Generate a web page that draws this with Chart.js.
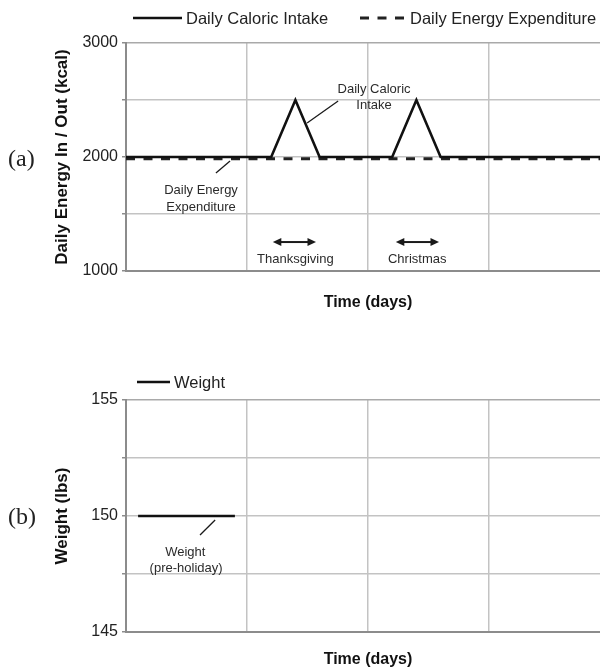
<!DOCTYPE html>
<html>
<head>
<meta charset="utf-8">
<script src="https://cdn.jsdelivr.net/npm/chart.js@4/dist/chart.umd.min.js"></script>
<style>
  html, body { margin: 0; padding: 0; background: #ffffff; overflow: hidden; width: 600px; height: 668px; }
  canvas { position: absolute; left: 0; }
  #top { top: 0; }
  #bottom { top: 336px; }
</style>
</head>
<body>
<canvas id="top" width="610" height="336"></canvas>
<canvas id="bottom" width="610" height="340"></canvas>
<script>
// ---------------- DATA ----------------
const dayGrid = [0, 30, 60, 90, 120];

const intakeDays = [0, 36, 42, 48, 66, 72, 78, 120];
const intakeKcal = [2000, 2000, 2500, 2000, 2000, 2500, 2000, 2000];

const expenditureDays = [0, 120];
const expenditureKcal = [1985, 1985];

const weightDays = [3, 27];
const weightLbs = [150, 150];

const energyTicks = [1000, 1500, 2000, 2500, 3000];
const energyTickLabels = ['1000', '', '2000', '', '3000'];

const weightTicks = [145, 147.5, 150, 152.5, 155];
const weightTickLabels = ['145', '', '150', '', '155'];

const seriesLabels = ['Daily Caloric Intake', 'Daily Energy Expenditure', 'Weight'];
// --------------------------------------

const SANS = "'Liberation Sans', Arial, Helvetica, sans-serif";
const SERIF = "'Liberation Serif', 'Times New Roman', serif";
const AXIS = '#8c8c8c';
const GRID = '#c3c3c3';
const GRID_TOP = '#a9a9a9';

function pts(xs, ys) { return xs.map((x, i) => ({ x: x, y: ys[i] })); }

function xScale(height, titlePadBottom) {
  return {
    type: 'linear', min: dayGrid[0], max: dayGrid[dayGrid.length - 1],
    afterBuildTicks: s => { s.ticks = dayGrid.map(v => ({ value: v })); },
    afterFit: s => { s.height = height; s.paddingLeft = 0; s.paddingRight = 0; },
    ticks: { display: false },
    grid: { color: c => (c.tick && c.tick.value === 0) ? 'rgba(0,0,0,0)' : GRID, lineWidth: 1.5, drawTicks: false },
    border: { display: true, color: AXIS, width: 2 },
    title: { display: true, text: 'Time (days)', color: '#111', font: { family: SANS, size: 16, weight: 'bold' }, padding: { top: 0, bottom: titlePadBottom } }
  };
}

function yScale(ticks, labels, title) {
  const mx = ticks[ticks.length - 1];
  return {
    type: 'linear', min: ticks[0], max: mx,
    afterBuildTicks: s => { s.ticks = ticks.map(v => ({ value: v })); },
    afterFit: s => { s.width = 126; },
    ticks: { autoSkip: false, color: '#222', padding: 4, font: { family: SANS, size: 16 },
             callback: (v, i) => labels[i] },
    grid: { color: c => (c.tick && c.tick.value === mx) ? GRID_TOP : GRID, lineWidth: 1.5,
            drawTicks: true, tickLength: 4, tickColor: AXIS },
    border: { display: true, color: AXIS, width: 2 },
    title: { display: true, text: title, color: '#111', font: { family: SANS, size: 17, weight: 'bold' }, padding: { top: 51.8, bottom: 0 } }
  };
}

function legendEntry(c, x, y, len, ds) {
  c.save();
  c.strokeStyle = ds.borderColor; c.lineWidth = ds.borderWidth; c.lineCap = 'butt';
  c.setLineDash(ds.borderDash || []);
  c.beginPath(); c.moveTo(x, y); c.lineTo(x + len, y); c.stroke();
  c.setLineDash([]);
  c.fillStyle = '#222'; c.font = '16.5px ' + SANS; c.textAlign = 'left'; c.textBaseline = 'middle';
  c.fillText(ds.label, x + len + 4, y + 1);
  c.restore();
}

function leader(c, x1, y1, x2, y2) {
  c.save(); c.strokeStyle = '#1a1a1a'; c.lineWidth = 1.3;
  c.beginPath(); c.moveTo(x1, y1); c.lineTo(x2, y2); c.stroke(); c.restore();
}

function doubleArrow(c, x1, x2, y) {
  const h = 8.5, w = 4;
  c.save(); c.strokeStyle = '#1a1a1a'; c.fillStyle = '#1a1a1a'; c.lineWidth = 2;
  c.beginPath(); c.moveTo(x1 + h - 1, y); c.lineTo(x2 - h + 1, y); c.stroke();
  c.beginPath(); c.moveTo(x1, y); c.lineTo(x1 + h, y - w); c.lineTo(x1 + h, y + w); c.closePath(); c.fill();
  c.beginPath(); c.moveTo(x2, y); c.lineTo(x2 - h, y - w); c.lineTo(x2 - h, y + w); c.closePath(); c.fill();
  c.restore();
}

function note(c, text, x, y) {
  c.save(); c.fillStyle = '#2b2b2b'; c.font = '13px ' + SANS; c.textAlign = 'center'; c.textBaseline = 'middle';
  c.fillText(text, x, y); c.restore();
}

function panelLabel(c, text, x, y) {
  c.save(); c.fillStyle = '#222'; c.font = '24px ' + SERIF; c.textAlign = 'left'; c.textBaseline = 'middle';
  c.fillText(text, x, y); c.restore();
}

const topAnnotations = {
  id: 'topAnnotations',
  afterDraw(chart) {
    const c = chart.ctx, xs = chart.scales.x, ys = chart.scales.y;
    const X = d => xs.getPixelForValue(d), Y = v => ys.getPixelForValue(v);
    legendEntry(c, 133, 18, 49, chart.data.datasets[0]);
    legendEntry(c, 360, 18, 46, chart.data.datasets[1]);
    panelLabel(c, '(a)', 8, 160);
    note(c, 'Daily Caloric', X(61.5), Y(2590));
    note(c, 'Intake', X(61.5), Y(2455));
    leader(c, X(52.6), Y(2491), X(44.9), Y(2298));
    note(c, 'Daily Energy', X(18.6), Y(1711));
    note(c, 'Expenditure', X(18.6), Y(1561));
    leader(c, X(25.8), Y(1965), X(22.3), Y(1860));
    doubleArrow(c, X(36.4), X(47.1), Y(1254));
    note(c, 'Thanksgiving', X(42.0), Y(1105));
    doubleArrow(c, X(66.9), X(77.6), Y(1254));
    note(c, 'Christmas', X(72.2), Y(1105));
  }
};

const bottomAnnotations = {
  id: 'bottomAnnotations',
  afterDraw(chart) {
    const c = chart.ctx, xs = chart.scales.x, ys = chart.scales.y;
    const X = d => xs.getPixelForValue(d), Y = v => ys.getPixelForValue(v);
    legendEntry(c, 137, 46, 33, chart.data.datasets[0]);
    panelLabel(c, '(b)', 8, 182);
    leader(c, X(22.1), Y(149.83), X(18.35), Y(149.18));
    note(c, 'Weight', X(14.7), Y(148.45));
    note(c, '(pre-holiday)', X(14.9), Y(147.76));
  }
};

const common = {
  responsive: false,
  animation: false,
  events: [],
  plugins: { legend: { display: false }, tooltip: { enabled: false } },
  elements: { point: { radius: 0 }, line: { tension: 0, borderJoinStyle: 'miter', borderCapStyle: 'butt' } }
};

new Chart(document.getElementById('top'), {
  type: 'line',
  data: {
    datasets: [
      { label: seriesLabels[0], data: pts(intakeDays, intakeKcal), borderColor: '#111', borderWidth: 2.6, fill: false },
      { label: seriesLabels[1], data: pts(expenditureDays, expenditureKcal), borderColor: '#222', borderWidth: 3, borderDash: [9, 8.5], fill: false }
    ]
  },
  options: Object.assign({}, common, {
    layout: { padding: { top: 43, left: 0, right: 0, bottom: 0 } },
    scales: { x: xScale(65, 23.4), y: yScale(energyTicks, energyTickLabels, 'Daily Energy In / Out (kcal)') }
  }),
  plugins: [topAnnotations]
});

new Chart(document.getElementById('bottom'), {
  type: 'line',
  data: {
    datasets: [
      { label: seriesLabels[2], data: pts(weightDays, weightLbs), borderColor: '#111', borderWidth: 2.6, fill: false }
    ]
  },
  options: Object.assign({}, common, {
    layout: { padding: { top: 64, left: 0, right: 0, bottom: 0 } },
    scales: { x: xScale(44, 6.4), y: yScale(weightTicks, weightTickLabels, 'Weight (lbs)') }
  }),
  plugins: [bottomAnnotations]
});
</script>
</body>
</html>
